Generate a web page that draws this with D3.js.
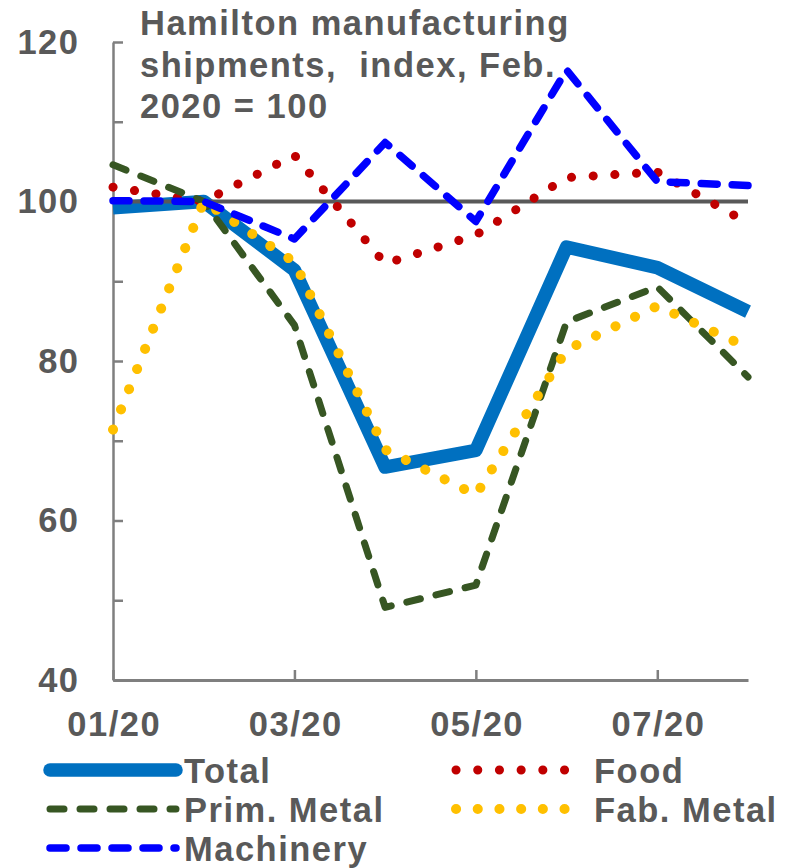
<!DOCTYPE html>
<html>
<head>
<meta charset="utf-8">
<script src="https://cdn.jsdelivr.net/npm/d3@7"></script>
<style>
  html, body { margin: 0; padding: 0; background: #fff; }
  svg { display: block; font-family: "Liberation Sans", Arial, sans-serif; font-weight: bold; }
</style>
</head>
<body>
<svg id="chart" width="786" height="868"></svg>
<script>
const months = ["01/20", "02/20", "03/20", "04/20", "05/20", "06/20", "07/20", "08/20"];
const xTickLabels = ["01/20", "03/20", "05/20", "07/20"];
const yTicks = [40, 50, 60, 70, 80, 90, 100, 110, 120];
const yLabels = [40, 60, 80, 100, 120];
const total = [99.2, 100, 91.4, 66.7, 68.8, 94.3, 91.7, 86.2];
const food = [101.8, 100, 105.8, 92.2, 95.8, 103.0, 103.7, 97.3];
const primMetal = [104.6, 100, 84.5, 49.1, 51.9, 84.9, 89.3, 78.0];
const fabMetal = [71.4, 100, 92.4, 68.9, 63.2, 81.4, 86.9, 81.7];
const machinery = [100.1, 100, 95.3, 107.4, 97.5, 116.5, 102.5, 102.0];
const titleLines = ["Hamilton manufacturing", "shipments,  index, Feb.", "2020 = 100"];

const svg = d3.select("#chart");
const grey = "#595959";
const axisGrey = "#7f7f7f";
const FS = 34.5;
const LS = 1.5;

const x = d3.scalePoint().domain(months).range([113, 748]);
const y = d3.scaleLinear().domain([40, 120]).range([680, 42]);

function styleText(sel) {
  sel.attr("fill", grey).attr("font-size", FS).attr("font-weight", "bold")
    .attr("letter-spacing", LS)
    .attr("font-family", "'Liberation Sans', Arial, sans-serif");
}

// y axis
const yAxis = d3.axisLeft(y)
  .tickValues(yTicks)
  .tickSizeInner(-10).tickSizeOuter(0)
  .tickPadding(33.5)
  .tickFormat(d => yLabels.includes(d) ? d : "");
const gy = svg.append("g").attr("transform", "translate(113,0)").call(yAxis);
gy.select(".domain").attr("stroke", axisGrey).attr("stroke-width", 2.5);
gy.selectAll(".tick line").attr("stroke", axisGrey).attr("stroke-width", 2.5);
gy.selectAll(".tick text").call(styleText);

// x axis
const xAxis = d3.axisBottom(x)
  .tickValues(xTickLabels)
  .tickSizeInner(-10).tickSizeOuter(0)
  .tickPadding(32);
const gx = svg.append("g").attr("transform", "translate(0,680)").call(xAxis);
gx.select(".domain").attr("stroke", axisGrey).attr("stroke-width", 3);
gx.selectAll(".tick line").attr("stroke", axisGrey).attr("stroke-width", 2.5);
gx.selectAll(".tick text").call(styleText).attr("dx", LS / 2);

const line = d3.line().x((d, i) => x(months[i])).y(d => y(d));

const styles = {
  total:     { color: "#0070C0", width: 13.5, dash: null, cap: "butt" },
  food:      { color: "#C00000", width: 9,  dash: "0.1 21.6", cap: "round" },
  primMetal: { color: "#375623", width: 7,  dash: "14 16", cap: "round" },
  fabMetal:  { color: "#FFC000", width: 10, dash: "0.1 21.6", cap: "round" },
  machinery: { color: "#0000FF", width: 7.5, dash: "16 15", cap: "round" }
};

function drawSeries(data, s) {
  svg.append("path").datum(data)
    .attr("d", line)
    .attr("fill", "none")
    .attr("stroke", s.color)
    .attr("stroke-width", s.width)
    .attr("stroke-linecap", s.cap)
    .attr("stroke-linejoin", "round")
    .attr("stroke-dasharray", s.dash);
}

drawSeries(total, styles.total);
// reference line at 100
svg.append("line")
  .attr("x1", x(months[0])).attr("x2", x(months[months.length - 1]))
  .attr("y1", y(100)).attr("y2", y(100))
  .attr("stroke", grey).attr("stroke-width", 4);
drawSeries(food, styles.food);
drawSeries(primMetal, styles.primMetal);
drawSeries(fabMetal, styles.fabMetal);
drawSeries(machinery, styles.machinery);

// title
const title = svg.append("text").call(styleText);
titleLines.forEach((t, i) => {
  title.append("tspan").attr("x", 140).attr("y", 35 + i * 41.5)
    .attr("xml:space", "preserve").text(t);
});

// legend
const legendItems = [
  { name: "Total", key: "total", col: 0, row: 0 },
  { name: "Food", key: "food", col: 1, row: 0 },
  { name: "Prim. Metal", key: "primMetal", col: 0, row: 1 },
  { name: "Fab. Metal", key: "fabMetal", col: 1, row: 1 },
  { name: "Machinery", key: "machinery", col: 0, row: 2 }
];
const colX = [[50, 176, 184], [456, 576, 594]];
legendItems.forEach(it => {
  const s = styles[it.key];
  const yy = 770 + it.row * 39;
  const [x1, x2, tx] = colX[it.col];
  svg.append("line").attr("x1", x1).attr("x2", x2).attr("y1", yy).attr("y2", yy)
    .attr("stroke", s.color).attr("stroke-width", s.width)
    .attr("stroke-linecap", "round")
    .attr("stroke-dasharray", s.dash);
  svg.append("text").attr("x", tx).attr("y", yy + 13)
    .call(styleText)
    .text(it.name);
});
</script>
</body>
</html>
